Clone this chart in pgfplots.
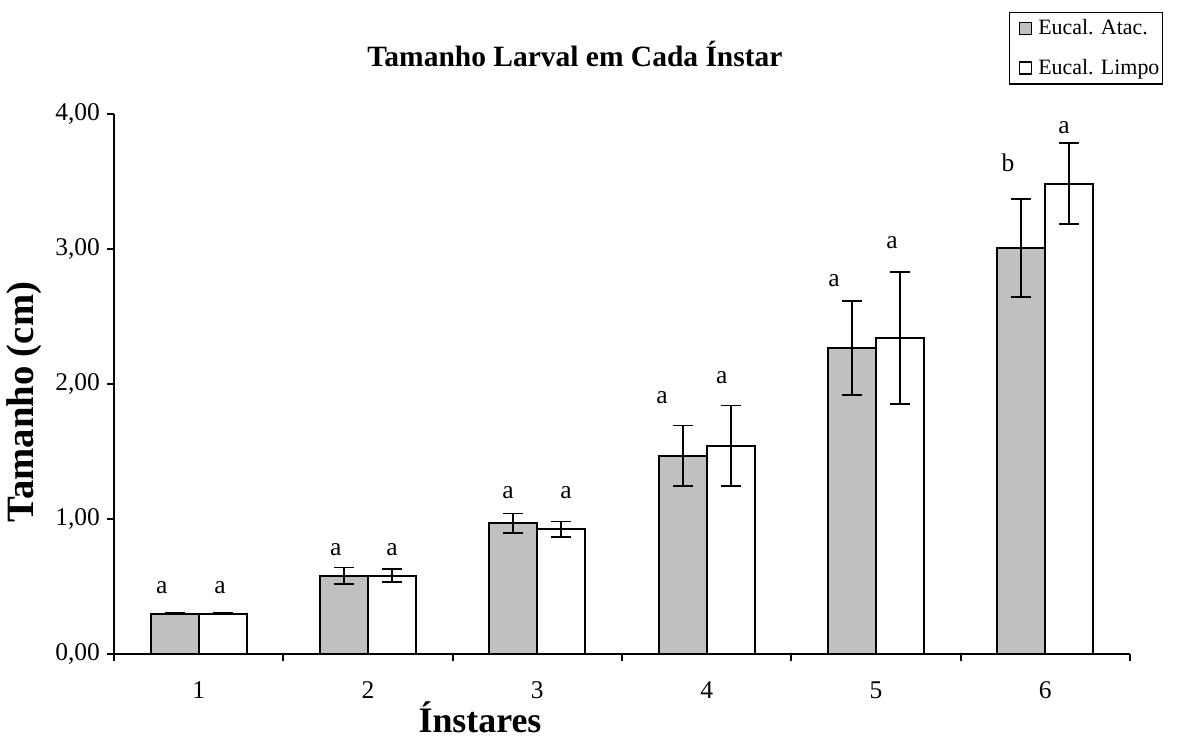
\documentclass[border=0pt]{standalone}
\usepackage{fontspec}
\setmainfont{Liberation Serif}
\usepackage{pgfplots}
\usepackage{pgfplotstable}
\pgfplotsset{compat=1.18}
\definecolor{barsilver}{HTML}{C0C0C0}

\pgfplotstableread{
x y e
1 0.296 0.005
2 0.578 0.060
3 0.966 0.072
4 1.467 0.224
5 2.267 0.348
6 3.007 0.364
}\atac
\pgfplotstableread{
x y e
1 0.296 0.005
2 0.578 0.047
3 0.921 0.059
4 1.541 0.297
5 2.341 0.489
6 3.481 0.300
}\limpo

\begin{document}
\begin{tikzpicture}
\begin{axis}[
  scale only axis, width=508bp, height=270bp,
  xmin=0.5, xmax=6.5, ymin=0, ymax=4,
  axis x line=bottom, axis y line=left,
  axis line style={-, line width=1bp, black},
  ybar=0pt, bar width=24bp,
  xtick={1,2,3,4,5,6},
  minor xtick={0.5,1.5,2.5,3.5,4.5,5.5,6.5},
  every major x tick/.append style={draw=none},
  ytick={0,1,2,3,4},
  tick align=outside,
  major tick length=3.5bp, minor tick length=3.5bp,
  tick style={line width=1bp, black},
  yticklabel style={/pgf/number format/.cd, fixed, fixed zerofill, precision=2, use comma, assume math mode=true},
  xticklabel style={/pgf/number format/assume math mode=true, yshift=-7bp},
  tick label style={font=\fontsize{12.8}{14}\selectfont},
  legend style={at={(1,1)}, anchor=north east, xshift=16.5bp, yshift=50.85bp,
    draw=black, line width=0.6bp, inner xsep=0.5bp, inner ysep=2.5bp, row sep=8.5bp,
    nodes={inner sep=1bp}, font=\fontsize{11}{12}\selectfont},
  legend cell align=left,
]
\addplot[fill=barsilver, draw=black, line width=1bp,
  legend image code/.code={\path (0bp,0bp) (12bp,0bp);\draw[fill=barsilver, draw=black, line width=0.7bp] (4bp,-3bp) rectangle (10bp,3bp);},
  error bars/.cd, y dir=both, y explicit, error mark=-,
  error bar style={line width=0.9bp, black},
  error mark options={rotate=90, black, line width=0.9bp, mark size=5bp}]
  table[x=x, y=y, y error=e]{\atac};
\addlegendentry{Eucal. Atac.}
\addplot[fill=white, draw=black, line width=1bp,
  legend image code/.code={\path (0bp,0bp) (12bp,0bp);\draw[fill=white, draw=black, line width=0.7bp] (4bp,-3bp) rectangle (10bp,3bp);},
  error bars/.cd, y dir=both, y explicit, error mark=-,
  error bar style={line width=0.9bp, black},
  error mark options={rotate=90, black, line width=0.9bp, mark size=5bp}]
  table[x=x, y=y, y error=e]{\limpo};
\addlegendentry{Eucal. Limpo}

\begin{scope}[every node/.style={anchor=base, font=\fontsize{12.8}{14}\selectfont, inner sep=0pt}]
\node at (axis cs:0.782,0.443) {a};
\node at (axis cs:1.126,0.443) {a};
\node at (axis cs:1.810,0.724) {a};
\node at (axis cs:2.142,0.724) {a};
\node at (axis cs:2.827,1.149) {a};
\node at (axis cs:3.169,1.149) {a};
\node at (axis cs:3.736,1.855) {a};
\node at (axis cs:4.089,2.005) {a};
\node at (axis cs:4.752,2.719) {a};
\node at (axis cs:5.094,3.000) {a};
\node at (axis cs:5.780,3.570) {b};
\node at (axis cs:6.110,3.850) {a};
\end{scope}
\end{axis}
\node[anchor=base, font=\bfseries\fontsize{14.8}{16}\selectfont, inner sep=0pt] at (230.5bp,293.5bp) {Tamanho Larval em Cada Ínstar};
\node[anchor=base, font=\bfseries\fontsize{18}{20}\selectfont, inner sep=0pt] at (183bp,-39.5bp) {Ínstares};
\node[anchor=base, rotate=90, font=\bfseries\fontsize{19.4}{21}\selectfont, inner sep=0pt] at (-40bp,125.85bp) {Tamanho (cm)};
\path[use as bounding box] (-57bp,-44bp) rectangle (531.5bp,326.85bp);
\end{tikzpicture}
\end{document}
